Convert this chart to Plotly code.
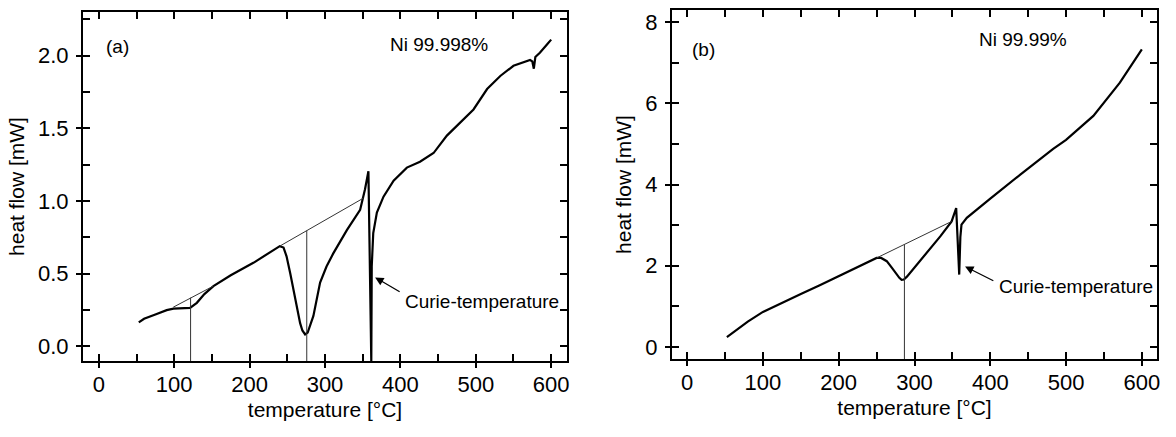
import plotly.graph_objects as go

# ---------------- data: panel (a) Ni 99.998% ----------------
temp_a = [53, 60, 75, 90, 99, 110, 121, 130, 140, 152, 175, 205, 225, 240, 245, 249,
          254, 258, 263, 267, 270, 273.6, 277, 280, 284.6, 293.5, 302, 311, 329,
          346.6, 353, 357.6, 359.6, 360.4, 361.4, 362, 364, 368.8, 377.6, 391, 408.6,
          426, 444, 461.7, 479, 497, 515, 532.5, 550, 565, 572, 575, 577, 579, 585,
          595, 600]
heat_a = [0.165, 0.19, 0.22, 0.25, 0.26, 0.26, 0.265, 0.30, 0.36, 0.415, 0.49, 0.575,
          0.64, 0.69, 0.68, 0.62, 0.50, 0.39, 0.26, 0.16, 0.11, 0.083, 0.095, 0.14,
          0.21, 0.44, 0.55, 0.64, 0.80, 0.94, 1.08, 1.205, 0.5, -0.1, -0.1, 0.55,
          0.78, 0.92, 1.03, 1.14, 1.23, 1.27, 1.33, 1.45, 1.54, 1.63, 1.77, 1.86,
          1.93, 1.96, 1.97, 1.96, 1.91, 1.99, 2.02, 2.08, 2.11]
base1_a_t = [98.7, 151.8]
base1_a_h = [0.27, 0.415]
base2_a_t = [240, 351]
base2_a_h = [0.69, 1.02]
vert1_a_t = [121.7, 121.7]
vert1_a_h = [-0.1, 0.335]
vert2_a_t = [275.8, 275.8]
vert2_a_h = [-0.1, 0.796]

# ---------------- data: panel (b) Ni 99.99% ----------------
temp_b = [52.4, 65, 80, 100, 125, 150, 175, 200, 225, 250, 256, 263.4, 270, 276.6,
          280, 283, 286, 290, 294, 305, 316, 334, 349, 355, 357, 359, 360.5, 362,
          369, 380, 400, 440, 483, 500, 536, 571, 600]
heat_b = [0.24, 0.42, 0.62, 0.86, 1.09, 1.30, 1.52, 1.75, 1.97, 2.19, 2.19, 2.11,
          1.95, 1.78, 1.70, 1.65, 1.66, 1.73, 1.82, 2.05, 2.31, 2.72, 3.09, 3.42,
          2.6, 1.78, 2.7, 3.01, 3.18, 3.35, 3.65, 4.25, 4.88, 5.1, 5.69, 6.51, 7.33]
base_b_t = [250, 349]
base_b_h = [2.19, 3.09]
vert_b_t = [286.7, 286.7]
vert_b_h = [-0.3, 2.52]

FONT = "Liberation Sans, Arial, sans-serif"
W, H = 1176, 437

fig = go.Figure()
thick = dict(color="black", width=2.2)
thin = dict(color="#333333", width=1)

fig.add_trace(go.Scatter(x=temp_a, y=heat_a, mode="lines", line=thick, xaxis="x", yaxis="y"))
for tx, hy in [(base1_a_t, base1_a_h), (base2_a_t, base2_a_h), (vert1_a_t, vert1_a_h), (vert2_a_t, vert2_a_h)]:
    fig.add_trace(go.Scatter(x=tx, y=hy, mode="lines", line=thin, xaxis="x", yaxis="y"))

fig.add_trace(go.Scatter(x=temp_b, y=heat_b, mode="lines", line=thick, xaxis="x2", yaxis="y2"))
for tx, hy in [(base_b_t, base_b_h), (vert_b_t, vert_b_h)]:
    fig.add_trace(go.Scatter(x=tx, y=hy, mode="lines", line=thin, xaxis="x2", yaxis="y2"))

# invisible traces that activate the overlay axes carrying the outward tick halves
fig.add_trace(go.Scatter(x=[0], y=[0], mode="lines", xaxis="x3", yaxis="y", hoverinfo="skip"))
fig.add_trace(go.Scatter(x=[0], y=[0], mode="lines", xaxis="x", yaxis="y3", hoverinfo="skip"))
fig.add_trace(go.Scatter(x=[0], y=[0], mode="lines", xaxis="x4", yaxis="y2", hoverinfo="skip"))
fig.add_trace(go.Scatter(x=[0], y=[0], mode="lines", xaxis="x2", yaxis="y4", hoverinfo="skip"))

xa_dom = [83 / W, 567 / W]
xb_dom = [672 / W, 1157 / W]
ya_dom = [(H - 361) / H, (H - 12) / H]
yb_dom = [(H - 359) / H, (H - 10) / H]

xr_a = [-21, 621]
yr_a = [-0.1, 2.3]
xr_b = [-20, 620]
yr_b = [-0.3, 8.3]

tickfont = dict(family=FONT, size=22, color="black")
titlefont = dict(family=FONT, size=21, color="black")


def main_axis(dom, rng, dtick, anchor, title, standoff, minor_dtick, lblgap, fmt=None):
    d = dict(domain=dom, range=rng, dtick=dtick, tick0=0, anchor=anchor, automargin=False,
             showline=True, linecolor="black", linewidth=2, mirror="allticks",
             ticks="inside", ticklen=7, tickwidth=2, tickcolor="black",
             minor=dict(ticks="inside", ticklen=5, tickwidth=1.5, tickcolor="black",
                        dtick=minor_dtick, tick0=0, showgrid=False),
             showgrid=False, zeroline=False, tickfont=tickfont,
             title=dict(text=title, font=titlefont, standoff=standoff),
             ticklabelstandoff=lblgap)
    if fmt:
        d["tickformat"] = fmt
    return d


def outer_axis(dom, rng, dtick, overlay, anchor):
    return dict(domain=dom, range=rng, dtick=dtick, tick0=0, overlaying=overlay, anchor=anchor,
                automargin=False, showline=False, ticks="outside", ticklen=6, tickwidth=2,
                tickcolor="black", showgrid=False, zeroline=False, showticklabels=False)


fig.update_layout(
    width=W, height=H, margin=dict(l=0, r=0, t=0, b=0),
    paper_bgcolor="white", plot_bgcolor="white", showlegend=False,
    xaxis=main_axis(xa_dom, xr_a, 100, "y", "temperature [°C]", 6, 50, 3),
    yaxis=main_axis(ya_dom, yr_a, 0.5, "x", "heat flow [mW]", 8, 0.25, 8, ".1f"),
    xaxis2=main_axis(xb_dom, xr_b, 100, "y2", "temperature [°C]", 6, 50, 3),
    yaxis2=main_axis(yb_dom, yr_b, 2, "x2", "heat flow [mW]", 8, 1, 8),
    xaxis3=outer_axis(xa_dom, xr_a, 100, "x", "y"),
    yaxis3=outer_axis(ya_dom, yr_a, 0.5, "y", "x"),
    xaxis4=outer_axis(xb_dom, xr_b, 100, "x2", "y2"),
    yaxis4=outer_axis(yb_dom, yr_b, 2, "y2", "x2"),
)

annfont = dict(family=FONT, size=19, color="black")
anns = [
    dict(xref="x", yref="y", x=25, y=2.063, text="(a)", showarrow=False, font=annfont),
    dict(xref="x", yref="y", x=451, y=2.077, text="Ni 99.998%", showarrow=False, font=annfont),
    dict(xref="x", yref="y", x=366.5, y=0.475, ax=401, ay=0.37, axref="x", ayref="y",
         text="", showarrow=True, arrowhead=2, arrowsize=1.3, arrowwidth=1.3, arrowcolor="black"),
    dict(xref="x", yref="y", x=403, y=0.31, text="Curie-temperature", showarrow=False,
         xanchor="left", font=annfont),
    dict(xref="x2", yref="y2", x=21, y=7.33, text="(b)", showarrow=False, font=annfont),
    dict(xref="x2", yref="y2", x=443, y=7.58, text="Ni 99.99%", showarrow=False, font=annfont),
    dict(xref="x2", yref="y2", x=366.7, y=1.98, ax=406, ay=1.61, axref="x2", ayref="y2",
         text="", showarrow=True, arrowhead=2, arrowsize=1.3, arrowwidth=1.3, arrowcolor="black"),
    dict(xref="x2", yref="y2", x=409, y=1.48, text="Curie-temperature", showarrow=False,
         xanchor="left", font=annfont),
]
fig.update_layout(annotations=anns)

fig.write_html("out.html", config={"displayModeBar": False},
               post_script="document.body.style.margin='0';")
